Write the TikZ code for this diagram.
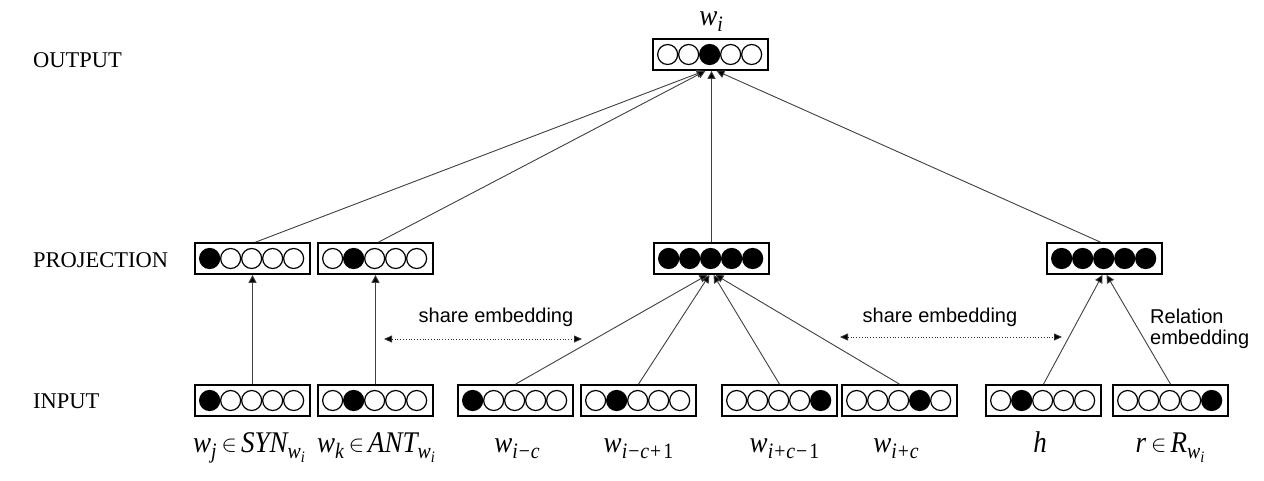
\documentclass[tikz,border=0pt]{standalone}
\usepackage{fix-cm}
\usepackage{fontspec}
\setmainfont{Liberation Serif}
\newfontfamily\arialfont{Liberation Sans}
\newfontfamily\lblfont{Liberation Serif}[FakeStretch=0.9]
\usetikzlibrary{arrows.meta}
\tikzset{
  vbox/.style={draw=black, line width=1.7pt, minimum width=115pt, minimum height=31pt, inner sep=0pt, fill=white},
  circ/.style={draw=black, line width=1.2pt},
  arr/.style={draw=black!75, line width=0.9pt, -{Triangle[length=8pt,width=8pt,fill=black]}},
  dotarr/.style={draw=black!80, line width=0.8pt, dotted, {Triangle[length=8pt,width=7pt,fill=black]}-{Triangle[length=8pt,width=7pt,fill=black]}},
  layerlbl/.style={anchor=base west, inner sep=0pt, font=\fontsize{22.5}{27}\selectfont},
  mathlbl/.style={anchor=base, inner sep=0pt, font=\lblfont\itshape\fontsize{30}{34}\selectfont},
  sanslbl/.style={inner sep=0pt, font=\arialfont\fontsize{20}{22}\selectfont}
}
\newcommand\ssub[1]{\raisebox{-6pt}{\fontsize{22}{22}\selectfont #1}}
\newcommand\sssub[1]{\raisebox{-4pt}{\fontsize{16}{16}\selectfont #1}}
\newcommand\elem{\kern5pt\raisebox{1pt}{\fontsize{23}{23}\selectfont$\in$}\kern4pt}
\newcommand\up[1]{{\upshape\kern1pt #1\kern1pt}}
\newcommand\vecbox[4]{%
  \node[vbox] (#1) at (#2,#3) {};
  \foreach \f [count=\k from 0] in {#4} {
    \ifnum\f=1 \def\fc{black}\else\def\fc{white}\fi
    \draw[circ, fill=\fc] (#1.west) ++(15.5+21*\k,0) circle[radius=10pt];
  }
}
\begin{document}
\begin{tikzpicture}[x=1pt,y=-1pt]
\useasboundingbox[fill=white] (0,0) rectangle (1264,480);

% layer labels
\node[layerlbl] (lout) at (33,67) {OUTPUT};
\node[layerlbl] (lproj) at (33,267) {PROJECTION};
\node[layerlbl] (lin) at (33,408) {INPUT};

\vecbox{out}{710.5}{54.5}{0,0,1,0,0}
\vecbox{pSyn}{252.5}{258.5}{1,0,0,0,0}
\vecbox{pAnt}{375.5}{258.5}{0,1,0,0,0}
\vecbox{pCtx}{711.5}{258.5}{1,1,1,1,1}
\vecbox{pRel}{1104.5}{258.5}{1,1,1,1,1}
\vecbox{iSyn}{252.5}{400.5}{1,0,0,0,0}
\vecbox{iAnt}{375.5}{400.5}{0,1,0,0,0}
\vecbox{iA}{515.5}{400.5}{1,0,0,0,0}
\vecbox{iB}{638.5}{400.5}{0,1,0,0,0}
\vecbox{iC}{779.5}{400.5}{0,0,0,0,1}
\vecbox{iD}{899.5}{400.5}{0,0,0,1,0}
\vecbox{iH}{1043.5}{400.5}{0,1,0,0,0}
\vecbox{iR}{1170.5}{400.5}{0,0,0,0,1}

% connectors
\draw[arr] (iSyn.north) -- (pSyn.south);
\draw[arr] (iAnt.north) -- (pAnt.south);
\draw[arr] (iA.north) -- ([xshift=-4pt]pCtx.south);
\draw[arr] (iB.north) -- ([xshift=-2pt]pCtx.south);
\draw[arr] (iC.north) -- ([xshift=2pt]pCtx.south);
\draw[arr] (iD.north) -- ([xshift=4pt]pCtx.south);
\draw[arr] (iH.north) -- ([xshift=-2pt]pRel.south);
\draw[arr] (iR.north) -- ([xshift=2pt]pRel.south);
\draw[arr] ([xshift=3pt]pSyn.north) -- ([xshift=-6pt]out.south);
\draw[arr] ([xshift=3pt]pAnt.north) -- ([xshift=-5pt]out.south);
\draw[arr] (pCtx.north) -- ([xshift=1pt]out.south);
\draw[arr] ([xshift=-4pt]pRel.north) -- ([xshift=6pt]out.south);

% share embedding arrows
\coordinate (d1a) at (384,339);
\coordinate (d1b) at (582,339);
\coordinate (d2a) at (840,337);
\coordinate (d2b) at (1062,337);
\draw[dotarr] (d1a) -- (d1b);
\draw[dotarr] (d2a) -- (d2b);
\node[sanslbl, anchor=base] (se1) at (496,322) {share embedding};
\node[sanslbl, anchor=base] (se2) at (940,322) {share embedding};
\node[sanslbl, anchor=base west, align=left] (relemb) at (1150,344) {Relation\\[-1pt]embedding};

% labels
\node[mathlbl] (twi) at (711,25) {w\ssub{i}};
\node[mathlbl] (tsyn) at (249,452) {w\ssub{j}\elem SYN\ssub{w\sssub{i}}};
\node[mathlbl] (tant) at (376,452) {w\ssub{k}\elem ANT\ssub{w\sssub{i}}};
\node[mathlbl] (ta) at (517,452) {w\ssub{i\up{−}c}};
\node[mathlbl] (tb) at (639,452) {w\ssub{i\up{−}c\up{+}\up{1}}};
\node[mathlbl] (tc) at (785,452) {w\ssub{i\up{+}c\up{−}\up{1}}};
\node[mathlbl] (td) at (896,452) {w\ssub{i\up{+}c}};
\node[mathlbl] (th) at (1040,452) {h};
\node[mathlbl] (tr) at (1170,452) {r\elem R\ssub{w\sssub{i}}};
\end{tikzpicture}
\end{document}
